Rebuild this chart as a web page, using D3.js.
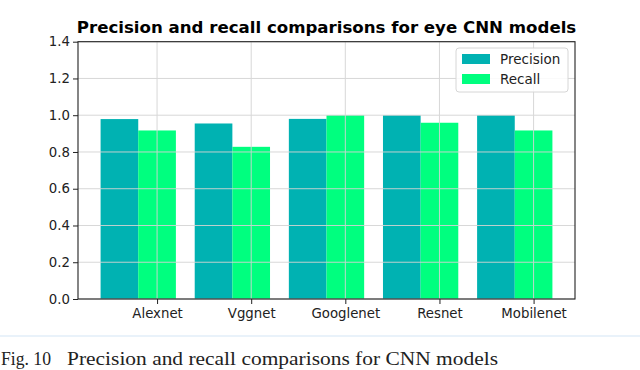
<!DOCTYPE html>
<html><head><meta charset="utf-8">
<script src="https://cdn.jsdelivr.net/npm/d3@7"></script>
<style>html,body{margin:0;padding:0;background:#fff;overflow:hidden}</style>
</head><body>
<svg id="c" width="640" height="370"></svg>
<script>
const categories = ["Alexnet", "Vggnet", "Googlenet", "Resnet", "Mobilenet"];
const precision = [0.979, 0.955, 0.980, 1.0, 1.0];
const recall = [0.917, 0.828, 1.0, 0.959, 0.917];
const yTicks = [0.0, 0.2, 0.4, 0.6, 0.8, 1.0, 1.2, 1.4];
const seriesNames = ["Precision", "Recall"];
const colors = ["#00b2b2", "#00ff7f"];
const titleText = "Precision and recall comparisons for eye CNN models";
const captionLabel = "Fig. 10";
const captionText = "Precision and recall comparisons for CNN models";

const svg = d3.select("#c");
const L = 78, R = 575, T = 41.7, B = 299;
const barW = 0.4;
const x = d3.scaleLinear().domain([-0.44, 4.84]).range([L, R]);
const y = d3.scaleLinear().domain([0, 1.4]).range([B, T]);
const font = "DejaVu Sans, sans-serif";
const fs = 13.3;

// bars
const series = [precision, recall];
series.forEach((vals, s) => {
  svg.append("g").selectAll("rect").data(vals).join("rect")
    .attr("x", (d, i) => x(i + s * barW - barW / 2))
    .attr("width", (d, i) => x(i + s * barW + barW / 2) - x(i + s * barW - barW / 2))
    .attr("y", d => y(d))
    .attr("height", d => y(0) - y(d))
    .attr("fill", colors[s]);
});

// grid (above bars, like matplotlib)
const grid = svg.append("g").attr("stroke", "#d4d4d4").attr("stroke-width", 1).attr("opacity", 0.9);
yTicks.forEach(t => grid.append("line").attr("x1", L).attr("x2", R).attr("y1", y(t)).attr("y2", y(t)));
categories.forEach((c, i) => grid.append("line").attr("x1", x(i + barW)).attr("x2", x(i + barW)).attr("y1", T).attr("y2", B));

// axes
const yAxis = d3.axisLeft(y).tickValues(yTicks).tickFormat(d3.format(".1f")).tickSize(5).tickPadding(3);
const gy = svg.append("g").attr("transform", `translate(${L},0)`).call(yAxis);
const xAxis = d3.axisBottom(d3.scaleLinear().domain(x.domain()).range(x.range()))
  .tickValues(categories.map((c, i) => i + barW)).tickFormat((d, i) => categories[i]).tickSize(5).tickPadding(5);
const gx = svg.append("g").attr("transform", `translate(0,${B})`).call(xAxis);
[gx, gy].forEach(g => {
  g.select(".domain").remove();
  g.selectAll("text").attr("font-family", font).attr("font-size", fs).attr("fill", "#222");
  g.selectAll(".tick line").attr("stroke", "#222");
});
// frame
svg.append("rect").attr("x", L).attr("y", T).attr("width", R - L).attr("height", B - T)
  .attr("fill", "none").attr("stroke", "#222").attr("stroke-width", 1.1);

// title
const title = svg.append("text").attr("x", (L + R) / 2).attr("y", 33).attr("text-anchor", "middle")
  .attr("font-family", font).attr("font-weight", "bold").attr("font-size", 14).text(titleText);
const tw = title.node().getComputedTextLength();
title.attr("font-size", 14 * 500 / tw);

// legend
const lg = svg.append("g");
lg.append("rect").attr("x", 456).attr("y", 48).attr("width", 112).attr("height", 44).attr("rx", 3)
  .attr("fill", "#fff").attr("fill-opacity", 0.85).attr("stroke", "#d6d6d6");
seriesNames.forEach((n, i) => {
  lg.append("rect").attr("x", 462).attr("y", 54 + i * 20).attr("width", 28).attr("height", 10).attr("fill", colors[i]);
  lg.append("text").attr("x", 500).attr("y", 64 + i * 20).attr("font-family", font).attr("font-size", 13.5)
    .attr("fill", "#222").text(n);
});

// page separator and caption
svg.append("line").attr("x1", 0).attr("x2", 640).attr("y1", 336).attr("y2", 336).attr("stroke", "#d3e5f5").attr("stroke-width", 1.2);
svg.append("text").attr("x", 1).attr("y", 365).attr("font-family", "Liberation Serif, Times New Roman, serif")
  .attr("font-size", 18).attr("fill", "#222").attr("textLength", 50).attr("lengthAdjust", "spacingAndGlyphs").text(captionLabel);
svg.append("text").attr("x", 67).attr("y", 365).attr("font-family", "Liberation Serif, Times New Roman, serif")
  .attr("font-size", 18).attr("fill", "#222").attr("textLength", 431).attr("lengthAdjust", "spacingAndGlyphs").text(captionText);
</script>
</body></html>
